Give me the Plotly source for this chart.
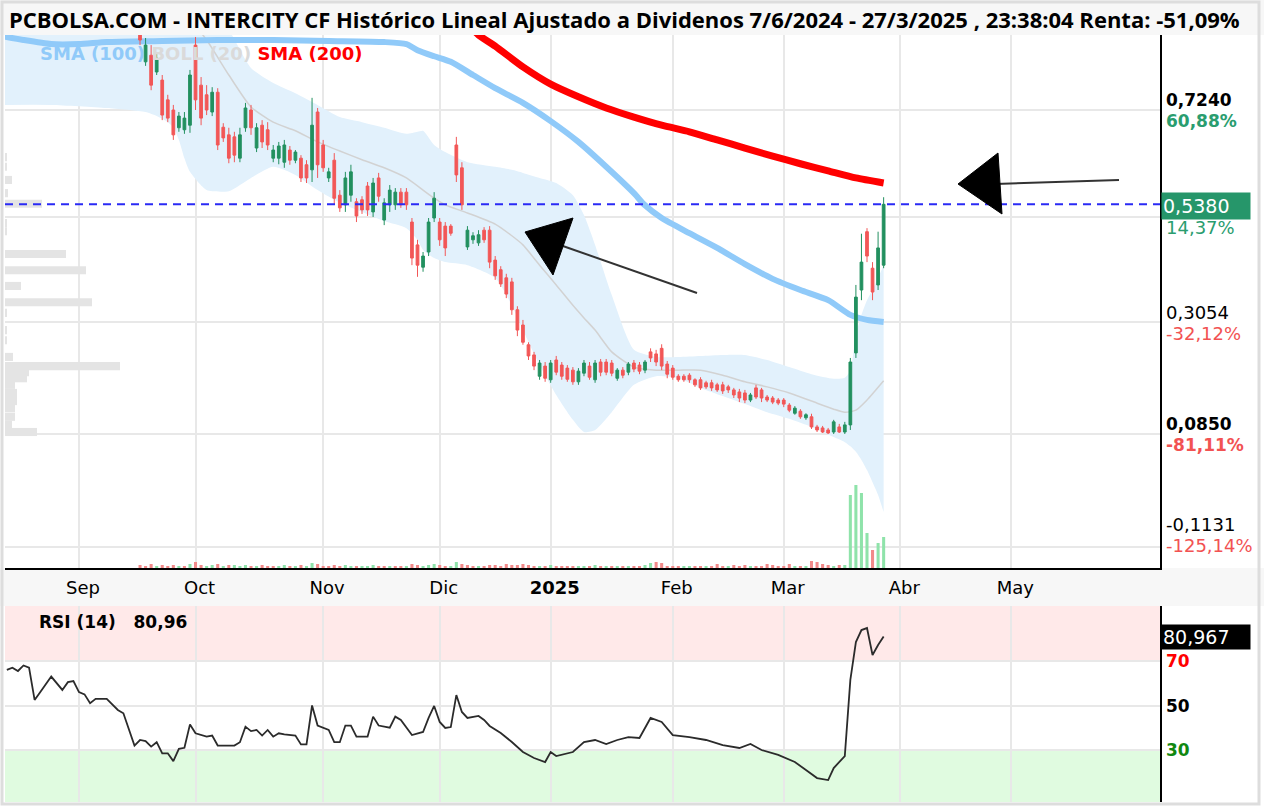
import pandas as pd
import plotly.graph_objects as go

# ---------------- trading calendar (session 0 = 2024-09-02) ----------------
HOLIDAYS = ["2024-12-25", "2024-12-26", "2025-01-01", "2025-04-18", "2025-04-21"]
CAL = pd.bdate_range("2024-08-01", "2025-07-31", freq="C", holidays=HOLIDAYS)
BASE = CAL.get_loc(pd.Timestamp("2024-09-02"))


def sess(i):
    return CAL[BASE + i]


# ---------------- daily candles (first candle = session 11, 2024-09-17) ----------------
CANDLE_FIRST = 11
OPEN = [
    0.892, 0.819, 0.832, 0.799, 0.783, 0.744, 0.724, 0.689, 0.685, 0.694,
    0.852, 0.773, 0.754, 0.720, 0.759, 0.690, 0.675, 0.671, 0.629, 0.689,
    0.724, 0.649, 0.694, 0.685, 0.629, 0.629, 0.621, 0.645, 0.625, 0.629,
    0.616, 0.606, 0.720, 0.655, 0.590, 0.625, 0.556, 0.537, 0.556, 0.543,
    0.547, 0.574, 0.523, 0.590, 0.507, 0.537, 0.537, 0.562, 0.562, 0.503,
    0.458, 0.414, 0.444, 0.511, 0.503, 0.495, 0.495, 0.655, 0.610, 0.454,
    0.468, 0.462, 0.487, 0.487, 0.428, 0.409, 0.393, 0.385, 0.330, 0.300,
    0.261, 0.241, 0.199, 0.219, 0.192, 0.231, 0.221, 0.215, 0.211, 0.188,
    0.205, 0.219, 0.192, 0.227, 0.227, 0.225, 0.195, 0.211, 0.207, 0.225,
    0.221, 0.211, 0.247, 0.243, 0.254, 0.223, 0.215, 0.199, 0.199, 0.201,
    0.192, 0.192, 0.186, 0.186, 0.182, 0.182, 0.178, 0.172, 0.168, 0.166,
    0.152, 0.176, 0.172, 0.158, 0.156, 0.152, 0.152, 0.142, 0.126, 0.130,
    0.117, 0.119, 0.099, 0.097, 0.093, 0.089, 0.099, 0.089, 0.103, 0.245,
    0.369, 0.484, 0.412, 0.379, 0.418,
]
HIGH = [
    0.902, 0.866, 0.852, 0.838, 0.793, 0.754, 0.734, 0.720, 0.720, 0.803,
    0.868, 0.789, 0.773, 0.769, 0.767, 0.698, 0.689, 0.681, 0.689, 0.738,
    0.734, 0.698, 0.704, 0.700, 0.655, 0.661, 0.665, 0.653, 0.645, 0.635,
    0.625, 0.748, 0.728, 0.665, 0.610, 0.639, 0.566, 0.602, 0.616, 0.550,
    0.554, 0.582, 0.590, 0.600, 0.550, 0.576, 0.570, 0.570, 0.570, 0.511,
    0.468, 0.444, 0.511, 0.562, 0.511, 0.503, 0.499, 0.671, 0.621, 0.495,
    0.483, 0.487, 0.493, 0.495, 0.436, 0.416, 0.401, 0.393, 0.337, 0.310,
    0.266, 0.247, 0.231, 0.227, 0.231, 0.239, 0.227, 0.221, 0.217, 0.215,
    0.231, 0.227, 0.231, 0.233, 0.233, 0.231, 0.215, 0.217, 0.227, 0.231,
    0.227, 0.231, 0.254, 0.251, 0.262, 0.229, 0.221, 0.203, 0.203, 0.205,
    0.195, 0.197, 0.190, 0.192, 0.186, 0.188, 0.182, 0.176, 0.174, 0.172,
    0.166, 0.182, 0.176, 0.162, 0.160, 0.156, 0.156, 0.146, 0.140, 0.134,
    0.126, 0.125, 0.103, 0.101, 0.097, 0.113, 0.105, 0.109, 0.235, 0.379,
    0.480, 0.491, 0.424, 0.484, 0.552,
]
LOW = [
    0.852, 0.811, 0.763, 0.793, 0.704, 0.700, 0.665, 0.681, 0.677, 0.679,
    0.724, 0.694, 0.714, 0.712, 0.645, 0.661, 0.619, 0.621, 0.621, 0.681,
    0.675, 0.641, 0.649, 0.645, 0.621, 0.617, 0.610, 0.616, 0.619, 0.582,
    0.580, 0.582, 0.590, 0.602, 0.582, 0.537, 0.523, 0.523, 0.543, 0.503,
    0.519, 0.515, 0.513, 0.543, 0.497, 0.523, 0.527, 0.531, 0.527, 0.418,
    0.395, 0.405, 0.436, 0.503, 0.456, 0.436, 0.476, 0.582, 0.527, 0.448,
    0.460, 0.456, 0.462, 0.412, 0.389, 0.375, 0.353, 0.320, 0.278, 0.261,
    0.231, 0.211, 0.192, 0.188, 0.186, 0.201, 0.192, 0.188, 0.182, 0.182,
    0.199, 0.192, 0.186, 0.199, 0.201, 0.199, 0.190, 0.195, 0.201, 0.207,
    0.203, 0.205, 0.227, 0.219, 0.211, 0.195, 0.192, 0.188, 0.188, 0.186,
    0.178, 0.172, 0.174, 0.170, 0.168, 0.164, 0.166, 0.156, 0.148, 0.146,
    0.148, 0.154, 0.148, 0.148, 0.144, 0.142, 0.138, 0.128, 0.123, 0.115,
    0.113, 0.095, 0.089, 0.087, 0.085, 0.085, 0.087, 0.085, 0.093, 0.235,
    0.349, 0.424, 0.349, 0.369, 0.412,
]
CLOSE = [
    0.862, 0.852, 0.773, 0.826, 0.714, 0.708, 0.675, 0.712, 0.708, 0.793,
    0.744, 0.708, 0.724, 0.759, 0.655, 0.669, 0.629, 0.635, 0.675, 0.728,
    0.689, 0.689, 0.661, 0.655, 0.645, 0.653, 0.655, 0.625, 0.641, 0.590,
    0.590, 0.694, 0.616, 0.610, 0.602, 0.550, 0.531, 0.590, 0.602, 0.515,
    0.527, 0.527, 0.580, 0.554, 0.541, 0.566, 0.562, 0.537, 0.537, 0.432,
    0.418, 0.436, 0.503, 0.550, 0.468, 0.452, 0.481, 0.596, 0.537, 0.487,
    0.476, 0.478, 0.468, 0.424, 0.397, 0.381, 0.361, 0.330, 0.290, 0.266,
    0.239, 0.219, 0.225, 0.195, 0.225, 0.207, 0.199, 0.193, 0.188, 0.209,
    0.225, 0.197, 0.225, 0.207, 0.207, 0.205, 0.211, 0.201, 0.223, 0.213,
    0.209, 0.227, 0.235, 0.227, 0.219, 0.203, 0.197, 0.192, 0.192, 0.192,
    0.182, 0.176, 0.178, 0.176, 0.172, 0.170, 0.172, 0.162, 0.156, 0.152,
    0.162, 0.158, 0.156, 0.152, 0.148, 0.146, 0.144, 0.132, 0.136, 0.119,
    0.123, 0.099, 0.093, 0.089, 0.087, 0.109, 0.089, 0.103, 0.227, 0.355,
    0.424, 0.436, 0.365, 0.452, 0.538,
]
VOLUME = [
    30, 20, 40, 20, 30, 20, 30, 20, 20, 40,
    60, 30, 20, 30, 40, 20, 30, 30, 20, 30,
    20, 20, 30, 20, 20, 20, 30, 20, 20, 30,
    20, 50, 40, 20, 20, 30, 20, 30, 20, 20,
    20, 20, 30, 20, 20, 20, 20, 20, 20, 40,
    30, 20, 30, 40, 30, 20, 20, 60, 40, 30,
    20, 20, 20, 30, 30, 20, 40, 30, 30, 40,
    30, 20, 20, 20, 30, 20, 20, 20, 20, 20,
    20, 20, 30, 20, 20, 20, 20, 20, 20, 20,
    20, 30, 50, 60, 50, 20, 20, 20, 20, 20,
    20, 20, 20, 20, 40, 20, 20, 30, 20, 30,
    20, 20, 20, 40, 30, 20, 20, 40, 20, 20,
    20, 70, 60, 40, 30, 20, 30, 30, 730, 830,
    750, 350, 180, 250, 310,
]

# ---------------- indicators (session numbers + values) ----------------
SMA100_SESS = [-14, -10, -5, 0, 5, 15, 25, 35, 45, 55, 59, 61, 64, 67, 71, 75, 80, 85, 90, 95,
               100, 102, 105, 110, 115, 120, 125, 130, 135, 139, 142, 145]
SMA100 = [0.870, 0.862, 0.854, 0.854, 0.858, 0.860, 0.862, 0.862, 0.860, 0.858, 0.854, 0.842,
          0.830, 0.819, 0.793, 0.767, 0.738, 0.702, 0.661, 0.612, 0.560, 0.536, 0.511, 0.481,
          0.452, 0.420, 0.391, 0.369, 0.349, 0.320, 0.310, 0.306]

SMA200_SESS = [70, 72, 75, 80, 85, 90, 95, 100, 105, 110, 115, 120, 125, 130, 135, 140, 145]
SMA200 = [0.894, 0.872, 0.850, 0.809, 0.775, 0.750, 0.728, 0.710, 0.694, 0.681, 0.665, 0.649,
          0.633, 0.618, 0.604, 0.590, 0.580]

BAND_SESS = [-14, -5, 5, 12, 14, 16, 17, 18, 19, 20,
             23, 27, 31, 35, 39, 43, 47, 51, 55, 59,
             61, 62, 64, 66, 70, 75, 78, 80, 83, 86,
             89, 91, 93, 96, 100, 104, 108, 112, 116, 120,
             124, 128, 132, 136, 138, 139, 140, 141, 142, 143,
             144, 145]
BOLL_UPPER = [0.960, 0.960, 0.960, 0.957, 0.953, 0.951, 0.949, 0.947, 0.945, 0.945,
              0.931, 0.882, 0.807, 0.777, 0.757, 0.734, 0.710, 0.700, 0.689, 0.677,
              0.681, 0.683, 0.655, 0.641, 0.621, 0.612, 0.606, 0.600, 0.590, 0.580,
              0.556, 0.517, 0.458, 0.359, 0.251, 0.237, 0.237, 0.239, 0.241, 0.241,
              0.231, 0.217, 0.203, 0.194, 0.196, 0.211, 0.280, 0.320, 0.349, 0.369,
              0.393, 0.418]
BOLL_LOWER = [0.734, 0.734, 0.728, 0.720, 0.712, 0.700, 0.690, 0.665, 0.629, 0.602,
              0.566, 0.564, 0.590, 0.612, 0.596, 0.566, 0.541, 0.523, 0.505, 0.491,
              0.468, 0.448, 0.432, 0.424, 0.418, 0.393, 0.339, 0.290, 0.221, 0.162,
              0.113, 0.089, 0.093, 0.128, 0.182, 0.199, 0.195, 0.176, 0.160, 0.144,
              0.128, 0.115, 0.099, 0.079, 0.069, 0.061, 0.050, 0.034, 0.014, -0.010,
              -0.035, -0.069]
MID_SESS = [12, 18, 20, 23, 27, 31, 35, 39, 43, 47, 51, 55, 59, 62, 64, 66, 70, 75, 78, 80,
            83, 86, 89, 91, 93, 96, 100, 104, 108, 112, 116, 120, 124, 128, 132, 136, 138, 140, 142, 145]
BOLL_MID = [0.960, 0.921, 0.902, 0.862, 0.793, 0.730, 0.700, 0.683, 0.661, 0.643, 0.626, 0.610,
            0.590, 0.566, 0.550, 0.537, 0.521, 0.499, 0.476, 0.458, 0.418, 0.379, 0.339, 0.314,
            0.290, 0.247, 0.217, 0.211, 0.211, 0.211, 0.201, 0.188, 0.178, 0.166, 0.150, 0.134,
            0.128, 0.132, 0.152, 0.190]

RSI_SESS = [-13, -12, -11, -10, -9, -8, -7, -5, -3, -2,
            -1, 0, 1, 2, 3, 5, 7, 8, 10, 11,
            12, 13, 14, 15, 16, 17, 18, 19, 20, 21,
            23, 24, 25, 28, 29, 30, 31, 32, 33, 34,
            35, 36, 37, 39, 40, 41, 42, 43, 45, 46,
            47, 48, 49, 50, 52, 53, 54, 56, 57, 58,
            60, 62, 63, 64, 65, 66, 67, 68, 69, 70,
            72, 73, 74, 76, 78, 80, 82, 84, 85, 86,
            89, 91, 93, 95, 97, 99, 101, 103, 105, 107,
            110, 113, 116, 119, 121, 123, 126, 129, 131, 133,
            135, 136, 138, 139, 140, 141, 142, 143, 144, 145]
RSI_VALUE = [66, 67, 65.5, 68, 67, 52.5, 56, 63, 57, 60.5,
             61, 56, 55, 51, 53, 53, 48, 46.5, 32, 34.5,
             34, 31.5, 33.5, 28.5, 28.5, 25, 30.5, 31, 41.5, 37.5,
             36, 36.5, 32, 32, 33.5, 40.5, 38.5, 39, 36.5, 39,
             36, 37.5, 37, 36.5, 32.5, 32.5, 50, 41, 39, 33.5,
             33.5, 41, 41, 36, 36, 45, 41, 40, 45, 43.5,
             36.7, 38.1, 44.4, 49.8, 42.6, 39.9, 40.3, 54.7, 47.1, 44.4,
             45.3, 43.5, 40.8, 37.6, 33.6, 29.1, 26.4, 24.6, 29.1, 27.3,
             29.1, 33.6, 34.5, 32.7, 34.5, 35.8, 35.4, 44.4, 42.6, 36.7,
             35.8, 34.5, 32.2, 30.9, 32.7, 30.0, 27.8, 24.6, 21.0, 17.4,
             16.5, 21.9, 27.3, 61.5, 78.5, 83.9, 84.8, 72.7, 77.2, 80.97]

# volume-at-price profile (left side)
VP_PRICE = [0.631, 0.612, 0.586, 0.560, 0.539, 0.501, 0.485, 0.440, 0.408, 0.377, 0.345, 0.324,
            0.290, 0.270, 0.237, 0.219, 0.207, 0.195, 0.182, 0.166, 0.150, 0.136, 0.119, 0.103, 0.089]
VP_VOLUME = [20, 20, 70, 30, 370, 20, 20, 610, 810, 160, 870, 20,
             20, 20, 80, 1150, 240, 220, 100, 120, 120, 100, 100, 70, 320]

# ---------------- texts ----------------
TITLE = ("PCBOLSA.COM - INTERCITY CF Histórico Lineal Ajustado a Dividenos "
         "7/6/2024 - 27/3/2025 , 23:38:04 Renta: -51,09%")
MONTH_TICKS = ["2024-09-02", "2024-10-01", "2024-11-01", "2024-12-02", "2025-01-02",
               "2025-02-03", "2025-03-03", "2025-04-01", "2025-05-01"]
MONTH_LABELS = ["Sep", "Oct", "Nov", "Dic", "<b>2025</b>", "Feb", "Mar", "Abr", "May"]
PRICE_LEVELS = [0.7240, 0.5380, 0.3054, 0.0850, -0.1131]
PRICE_TEXT = ["0,7240", "0,5380", "0,3054", "0,0850", "-0,1131"]
PCT_TEXT = ["60,88%", "14,37%", "-32,12%", "-81,11%", "-125,14%"]
LAST_PRICE = 0.5380
RSI_LAST = 80.967
RSI_LAST_TEXT = "80,967"
RSI_TITLE = "RSI (14)&nbsp;&nbsp;&nbsp;80,96"
GRID_PRICES = [0.724, 0.513, 0.3054, 0.085, -0.138]

# ---------------- styling / geometry ----------------
W, H = 1264, 808
ML, MR, MT, MB = 5, 104, 35, 6
PW, PH = W - ML - MR, H - MT - MB


def pxx(x):
    return (x - ML) / PW


def pxy(y):
    return (H - MB - y) / PH


MAIN_DOM = [pxy(568), 1.0]
RSI_DOM = [0.0, pxy(606)]
Y_RANGE = [-0.1792, 0.8719]
RSI_RANGE = [6.63, 94.72]
X_RANGE = ["2024-08-13 16:00", "2025-06-06 19:12"]
RB = [dict(bounds=["sat", "mon"]), dict(values=HOLIDAYS)]

GREEN = "#22905F"
RED = "#F25757"
VGREEN = "#8FE3AA"
VRED = "#F28A8A"
GRID = "#E8E8E8"
LBL_FONT = "DejaVu Sans"

cdates = [sess(CANDLE_FIRST + k) for k in range(len(OPEN))]

fig = go.Figure()

# Bollinger band fill (base subplot, drawn first)
band_x = [sess(i) for i in BAND_SESS]
fig.add_trace(go.Scatter(x=band_x, y=BOLL_LOWER, mode="lines",
                         line=dict(width=0, shape="spline", smoothing=0.6),
                         hoverinfo="skip", showlegend=False))
fig.add_trace(go.Scatter(x=band_x, y=BOLL_UPPER, mode="lines",
                         line=dict(width=0, shape="spline", smoothing=0.6),
                         fill="tonexty", fillcolor="#E2F1FC",
                         hoverinfo="skip", showlegend=False))
fig.add_trace(go.Scatter(x=[sess(i) for i in MID_SESS], y=BOLL_MID, mode="lines",
                         line=dict(width=1.5, color="#D2D2D2", shape="spline", smoothing=0.6),
                         hoverinfo="skip", showlegend=False))
# moving averages
fig.add_trace(go.Scatter(x=[sess(i) for i in SMA100_SESS], y=SMA100, mode="lines",
                         line=dict(width=6, color="#90CAF9", shape="spline", smoothing=0.6),
                         hoverinfo="skip", showlegend=False))
fig.add_trace(go.Scatter(x=[sess(i) for i in SMA200_SESS], y=SMA200, mode="lines",
                         line=dict(width=7, color="#FF0000", shape="spline", smoothing=0.6),
                         hoverinfo="skip", showlegend=False))

# volume profile (overlay x3)
fig.add_trace(go.Bar(x=VP_VOLUME, y=VP_PRICE, orientation="h", width=0.016,
                     marker=dict(color="#E4E4E4", line=dict(width=0)),
                     xaxis="x3", yaxis="y", hoverinfo="skip", showlegend=False))

# volume bars (overlay y3)
prev = [OPEN[0]] + CLOSE[:-1]
vcol = [VGREEN if c >= p else VRED for p, c in zip(prev, CLOSE)]
fig.add_trace(go.Bar(x=cdates, y=VOLUME, width=0.55 * 86400000,
                     marker=dict(color=vcol, line=dict(width=0)),
                     xaxis="x", yaxis="y3", hoverinfo="skip", showlegend=False))

# candles (overlay y4, same scale as y, drawn above the band fill)
fig.add_trace(go.Candlestick(x=cdates, open=OPEN, high=HIGH, low=LOW, close=CLOSE,
                             increasing=dict(line=dict(color=GREEN, width=1), fillcolor=GREEN),
                             decreasing=dict(line=dict(color=RED, width=1), fillcolor=RED),
                             whiskerwidth=0, xaxis="x", yaxis="y4",
                             hoverinfo="skip", showlegend=False))

# RSI
fig.add_trace(go.Scatter(x=[sess(i) for i in RSI_SESS], y=RSI_VALUE, mode="lines",
                         line=dict(width=1.8, color="#2B2B2B"),
                         xaxis="x2", yaxis="y2", hoverinfo="skip", showlegend=False))

shapes = [
    dict(type="rect", xref="paper", yref="paper", x0=pxx(0), x1=pxx(W), y0=pxy(35), y1=pxy(0),
         fillcolor="#F7F7F7", line=dict(width=0), layer="below"),
    dict(type="rect", xref="paper", yref="paper", x0=pxx(0), x1=pxx(W), y0=pxy(606), y1=pxy(568),
         fillcolor="#F7F7F7", line=dict(width=0), layer="below"),
    dict(type="rect", xref="x2 domain", yref="y2", x0=0, x1=1, y0=70, y1=RSI_RANGE[1],
         fillcolor="#FFE9E9", line=dict(width=0), layer="below"),
    dict(type="rect", xref="x2 domain", yref="y2", x0=0, x1=1, y0=RSI_RANGE[0], y1=30,
         fillcolor="#E0FBE0", line=dict(width=0), layer="below"),
    dict(type="line", xref="x domain", yref="y", x0=0, x1=1, y0=LAST_PRICE, y1=LAST_PRICE,
         line=dict(color="#2A2AF5", width=2, dash="8px,6px"), layer="above"),
    dict(type="line", xref="paper", yref="paper", x0=pxx(697), y0=pxy(293), x1=pxx(560), y1=pxy(245),
         line=dict(color="#333333", width=2)),
    dict(type="path", xref="paper", yref="paper",
         path=f"M {pxx(525)} {pxy(232)} L {pxx(573)} {pxy(218)} L {pxx(553)} {pxy(275)} Z",
         fillcolor="black", line=dict(color="black", width=1)),
    dict(type="line", xref="paper", yref="paper", x0=pxx(1119), y0=pxy(180), x1=pxx(995), y1=pxy(184),
         line=dict(color="#333333", width=2)),
    dict(type="path", xref="paper", yref="paper",
         path=f"M {pxx(958)} {pxy(184)} L {pxx(998)} {pxy(153)} L {pxx(1002)} {pxy(214)} Z",
         fillcolor="black", line=dict(color="black", width=1)),
    dict(type="rect", xref="paper", yref="paper", x0=pxx(2), x1=pxx(1259), y0=pxy(804), y1=pxy(2),
         line=dict(color="#DDDDDD", width=3), fillcolor="rgba(0,0,0,0)", layer="above"),
]

ann = [
    dict(xref="paper", yref="paper", x=pxx(7), y=pxy(19), xanchor="left", yanchor="middle",
         text=f"<b>{TITLE}</b>", showarrow=False,
         font=dict(family="Open Sans", size=22, color="black")),
    dict(xref="paper", yref="paper", x=pxx(38), y=pxy(53), xanchor="left", yanchor="middle",
         text=("<b><span style='color:#90CAF9'>SMA (100)</span> "
               "<span style='color:#DADADA'>BOLL (20)</span> "
               "<span style='color:#FF0000'>SMA (200)</span></b>"),
         showarrow=False, font=dict(family=LBL_FONT, size=18)),
    dict(xref="paper", yref="paper", x=pxx(37), y=pxy(622), xanchor="left", yanchor="middle",
         text=f"<b>{RSI_TITLE}</b>", showarrow=False,
         font=dict(family=LBL_FONT, size=17, color="black")),
    dict(xref="paper", yref="y2", x=pxx(1161), y=RSI_LAST, xanchor="left", yanchor="middle",
         text=RSI_LAST_TEXT, showarrow=False, bgcolor="black", width=86, height=22, align="left",
         font=dict(family=LBL_FONT, size=19, color="white")),
]
for val, txt, col in zip([70, 50, 30], ["70", "50", "30"], ["#FF0000", "black", "#118811"]):
    ann.append(dict(xref="paper", yref="y2", x=pxx(1164), y=val, xanchor="left", yanchor="middle",
                    text=f"<b>{txt}</b>", showarrow=False,
                    font=dict(family=LBL_FONT, size=17, color=col)))

PCT_GREEN = "#2A9D6F"
PCT_RED = "#F25252"
styles = [
    (True, "black", True, PCT_GREEN),
    (None, "white", False, PCT_GREEN),
    (False, "black", False, PCT_RED),
    (True, "black", True, PCT_RED),
    (False, "black", False, PCT_RED),
]
for lvl, t1, t2, (b1, c1, b2, c2) in zip(PRICE_LEVELS, PRICE_TEXT, PCT_TEXT, styles):
    if b1 is None:
        ann.append(dict(xref="paper", yref="y", x=pxx(1161), y=lvl, yshift=-2, xanchor="left",
                        yanchor="middle", text=t1, showarrow=False, bgcolor="#26966A",
                        width=86, height=24, align="left",
                        font=dict(family=LBL_FONT, size=19, color="white")))
        ann.append(dict(xref="paper", yref="y", x=pxx(1164), y=lvl, yshift=-23, xanchor="left",
                        yanchor="middle", text=t2, showarrow=False,
                        font=dict(family=LBL_FONT, size=18, color=c2)))
        continue
    ann.append(dict(xref="paper", yref="y", x=pxx(1164), y=lvl, yshift=10, xanchor="left",
                    yanchor="middle", text=f"<b>{t1}</b>" if b1 else t1, showarrow=False,
                    font=dict(family=LBL_FONT, size=17 if b1 else 18, color=c1)))
    ann.append(dict(xref="paper", yref="y", x=pxx(1164), y=lvl, yshift=-11, xanchor="left",
                    yanchor="middle", text=f"<b>{t2}</b>" if b2 else t2, showarrow=False,
                    font=dict(family=LBL_FONT, size=17 if b2 else 18, color=c2)))

xcommon = dict(type="date", range=X_RANGE, rangebreaks=RB, tickmode="array",
               tickvals=MONTH_TICKS, showgrid=True, gridcolor=GRID, gridwidth=2,
               zeroline=False, automargin=False)
fig.update_layout(
    width=W, height=H,
    margin=dict(l=ML, r=MR, t=MT, b=MB, autoexpand=False),
    paper_bgcolor="white", plot_bgcolor="white",
    showlegend=False, hovermode=False,
    xaxis=dict(**xcommon, domain=[0, 1], anchor="y", ticktext=MONTH_LABELS,
               rangeslider=dict(visible=False), showline=True, linecolor="black", linewidth=2,
               ticks="", ticklabelstandoff=2, ticklabelshift=4,
               tickfont=dict(family=LBL_FONT, size=18, color="black")),
    xaxis2=dict(**xcommon, domain=[0, 1], anchor="y2", showticklabels=False, showline=False),
    xaxis3=dict(overlaying="x", anchor="y", range=[0, PW * 10], visible=False),
    yaxis=dict(domain=MAIN_DOM, anchor="x", range=Y_RANGE, side="right", showline=True,
               linecolor="black", linewidth=2, tickmode="array", tickvals=GRID_PRICES,
               showticklabels=False, showgrid=True, gridcolor=GRID, gridwidth=2,
               zeroline=False, ticks="", automargin=False),
    yaxis3=dict(overlaying="y", anchor="x", range=[0, 5330], visible=False),
    yaxis4=dict(overlaying="y", anchor="x", range=Y_RANGE, visible=False),
    yaxis2=dict(domain=RSI_DOM, anchor="x2", range=RSI_RANGE, side="right", showline=True,
                linecolor="black", linewidth=2, tickmode="array", tickvals=[30, 50, 70],
                showticklabels=False, showgrid=True, gridcolor=GRID, gridwidth=2,
                zeroline=False, ticks="", automargin=False),
    shapes=shapes,
    annotations=ann,
)

fig.write_html("out.html")
